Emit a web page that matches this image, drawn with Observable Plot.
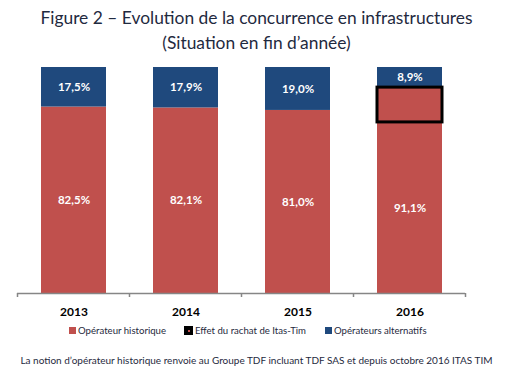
<!DOCTYPE html>
<html>
<head>
<meta charset="utf-8">
<script src="https://cdn.jsdelivr.net/npm/d3@7"></script>
<script src="https://cdn.jsdelivr.net/npm/@observablehq/plot@0.6"></script>
<style>
  html, body { margin: 0; padding: 0; background: #fff; }
  #wrap { position: relative; width: 513px; height: 372px; font-family: Lato, "Liberation Sans", sans-serif; overflow: hidden; }
  #title { position: absolute; top: 5px; left: 0; width: 513px; text-align: center; font-size: 17.4px; line-height: 25px; color: #1f2a40; }
  #chart { position: absolute; top: 55px; left: 0; }
  #legend { position: absolute; top: 322px; left: 0; width: 513px; font-size: 9.6px; color: #1f2a40; white-space: nowrap; }
  .item { position: absolute; top: 0; display: flex; align-items: center; height: 16px; }
  .sw { display: inline-block; width: 7px; height: 7px; margin-right: 2px; }
  .swx { display: inline-block; width: 9px; height: 9px; background: #000; margin-right: 2px; position: relative; }
  .swx::after { content: ""; position: absolute; left: 4px; top: 4px; width: 2px; height: 2px; background: #c0504d; }
  #note { position: absolute; top: 354px; left: 0; width: 513px; text-align: center; font-size: 10px; color: #1f2a40; white-space: nowrap; }
</style>
</head>
<body>
<div id="wrap">
  <div id="title">Figure 2 – Evolution de la concurrence en infrastructures<br>(Situation en fin d’année)</div>
  <div id="chart"></div>
  <div id="legend"></div>
  <div id="note">La notion d’opérateur historique renvoie au Groupe TDF incluant TDF SAS et depuis octobre 2016 ITAS TIM</div>
</div>
<script>
// Data
const years = ["2013", "2014", "2015", "2016"];
const historique = [82.5, 82.1, 81.0, 91.1];      // total share of incumbent (label)
const effetItasTim = [0, 0, 0, 15.4];             // part due to Itas-Tim acquisition (estimated)
const alternatifs = [17.5, 17.9, 19.0, 8.9];
const seriesNames = ["Opérateur historique", "Effet du rachat de Itas-Tim", "Opérateurs alternatifs"];
const seriesColors = ["#c0504d", "#c0504d", "#1f497d"];

const fmt = v => v.toFixed(1).replace(".", ",") + "%";

// Build stacked rows
const rows = [];
years.forEach((yr, i) => {
  const base = historique[i] - effetItasTim[i];
  let y = 0;
  rows.push({year: yr, series: seriesNames[0], y1: y, y2: y + base, label: fmt(historique[i])});
  y += base;
  if (effetItasTim[i] > 0) {
    rows.push({year: yr, series: seriesNames[1], y1: y, y2: y + effetItasTim[i], label: ""});
    y += effetItasTim[i];
  }
  rows.push({year: yr, series: seriesNames[2], y1: y, y2: y + alternatifs[i], label: fmt(alternatifs[i])});
});
const effectRows = rows.filter(r => r.series === seriesNames[1]);
const labelRows = rows.filter(r => r.label !== "");

// Boundary tick marks below the axis (derived from the band scale)
function boundaryTicks(index, scales, values, dims) {
  const x = scales.x;
  const step = x.step(), bw = x.bandwidth();
  const half = (step - bw) / 2;
  const yb = dims.height - dims.marginBottom;
  const xs = years.map(v => x(v) - half);
  xs.push(x(years[years.length - 1]) + bw + half);
  const g = d3.create("svg:g");
  g.selectAll("line").data(xs).join("line")
    .attr("x1", d => d).attr("x2", d => d)
    .attr("y1", yb).attr("y2", yb + 4)
    .attr("stroke", "#868686").attr("stroke-width", 1.5);
  return g.node();
}

const chart = Plot.plot({
  width: 513,
  height: 265,
  marginTop: 12,
  marginBottom: 27,
  marginLeft: 17,
  marginRight: 48,
  style: {fontFamily: "Lato, 'Liberation Sans', sans-serif", background: "transparent"},
  x: {domain: years, paddingInner: 0.42, paddingOuter: 0.21, label: null},
  y: {domain: [0, 100], axis: null},
  color: {domain: seriesNames, range: seriesColors},
  marks: [
    Plot.barY(rows, {x: "year", y1: "y1", y2: "y2", fill: "series"}),
    Plot.barY(effectRows, {x: "year", y1: "y1", y2: "y2", fill: "series", stroke: "#000", strokeWidth: 3}),
    Plot.text(labelRows, {x: "year", y: d => (d.y1 + d.y2) / 2, text: "label", fill: "#fff", fontWeight: "bold", fontSize: 11.5}),
    Plot.ruleY([0], {stroke: "#868686", strokeWidth: 1.5}),
    boundaryTicks,
    Plot.axisX({tickSize: 0, tickPadding: 14, fontSize: 12, fontWeight: "bold", fill: "#000", label: null})
  ]
});
document.getElementById("chart").appendChild(chart);

// Legend
const legend = document.getElementById("legend");
const items = [
  {name: seriesNames[0], color: seriesColors[0], left: 69, type: "sw"},
  {name: seriesNames[1], color: "#000", left: 184, type: "swx"},
  {name: seriesNames[2], color: seriesColors[2], left: 325, type: "sw"}
];
items.forEach(it => {
  const d = document.createElement("div");
  d.className = "item";
  d.style.left = it.left + "px";
  const s = document.createElement("span");
  s.className = it.type;
  if (it.type === "sw") s.style.background = it.color;
  d.appendChild(s);
  const t = document.createElement("span");
  t.textContent = it.name;
  d.appendChild(t);
  legend.appendChild(d);
});
</script>
</body>
</html>
